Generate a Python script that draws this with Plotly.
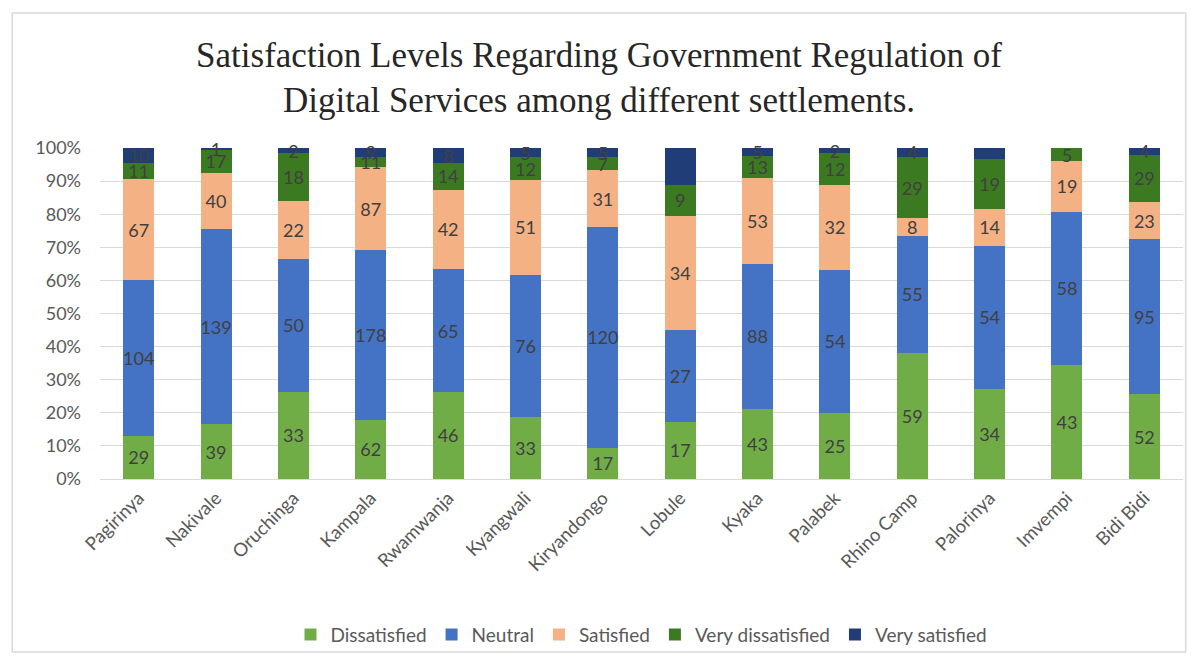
import plotly.graph_objects as go

settlements = ["Pagirinya", "Nakivale", "Oruchinga", "Kampala", "Rwamwanja", "Kyangwali",
               "Kiryandongo", "Lobule", "Kyaka", "Palabek", "Rhino Camp", "Palorinya",
               "Imvempi", "Bidi Bidi"]

dissatisfied = [29, 39, 33, 62, 46, 33, 17, 17, 43, 25, 59, 34, 43, 52]
neutral = [104, 139, 50, 178, 65, 76, 120, 27, 88, 54, 55, 54, 58, 95]
satisfied = [67, 40, 22, 87, 42, 51, 31, 34, 53, 32, 8, 14, 19, 23]
very_dissatisfied = [11, 17, 18, 11, 14, 12, 7, 9, 13, 12, 29, 19, 5, 29]
very_satisfied = [10, 1, 2, 9, 8, 5, 5, 11, 5, 2, 4, 4, 0, 4]

series = [
    ("Dissatisfied", dissatisfied, "#70AD47"),
    ("Neutral", neutral, "#4472C4"),
    ("Satisfied", satisfied, "#F4B183"),
    ("Very dissatisfied", very_dissatisfied, "#3C7A22"),
    ("Very satisfied", very_satisfied, "#203D78"),
]

FONT = "Lato, 'Open Sans', sans-serif"
GREY = "#595959"

fig = go.Figure()
for name, vals, col in series:
    fig.add_trace(go.Bar(
        name=name, x=settlements, y=vals,
        marker=dict(color=col, line=dict(width=0)),
        text=[str(v) for v in vals],
        textposition="inside", insidetextanchor="middle",
        textangle=0, constraintext="none",
        textfont=dict(family=FONT, size=18, color="#404040"),
        cliponaxis=False,
    ))

fig.update_layout(
    barmode="stack", barnorm="percent", bargap=0.6,
    width=1198, height=666,
    margin=dict(l=100, r=15, t=148, b=185),
    paper_bgcolor="white", plot_bgcolor="white",
    uniformtext=dict(mode="show", minsize=18),
    title=dict(
        text="Satisfaction Levels Regarding Government Regulation of<br>Digital Services among different settlements.",
        x=0.5, xanchor="center", y=0.9, yanchor="middle",
        font=dict(family="'Liberation Serif', serif", size=35, color="#262626"),
    ),
    font=dict(family=FONT, color=GREY),
    legend=dict(
        orientation="h", x=0.5, xanchor="center", y=-0.47, yanchor="middle",
        font=dict(family=FONT, size=19, color=GREY), traceorder="normal",
        itemwidth=30, bgcolor="rgba(0,0,0,0)",
    ),
    showlegend=True,
)

fig.update_yaxes(
    range=[0, 100], tickvals=list(range(0, 101, 10)),
    ticktext=[f"{v}%" for v in range(0, 101, 10)],
    tickfont=dict(family=FONT, size=18, color=GREY),
    showgrid=True, gridcolor="#D9D9D9", gridwidth=1,
    zeroline=False, showline=False, ticks="", ticklabelstandoff=18,
)
fig.update_xaxes(
    tickangle=-45, tickfont=dict(family=FONT, size=18.5, color=GREY),
    showline=True, linecolor="#D9D9D9", linewidth=1, ticks="",
)

# Outer chart frame
fig.add_shape(type="rect", xref="paper", yref="paper",
              x0=-0.081, x1=1.0025, y0=-0.5225, y1=1.408,
              line=dict(color="#D9D9D9", width=1.5), fillcolor="rgba(0,0,0,0)")

fig.write_html("out.html")
